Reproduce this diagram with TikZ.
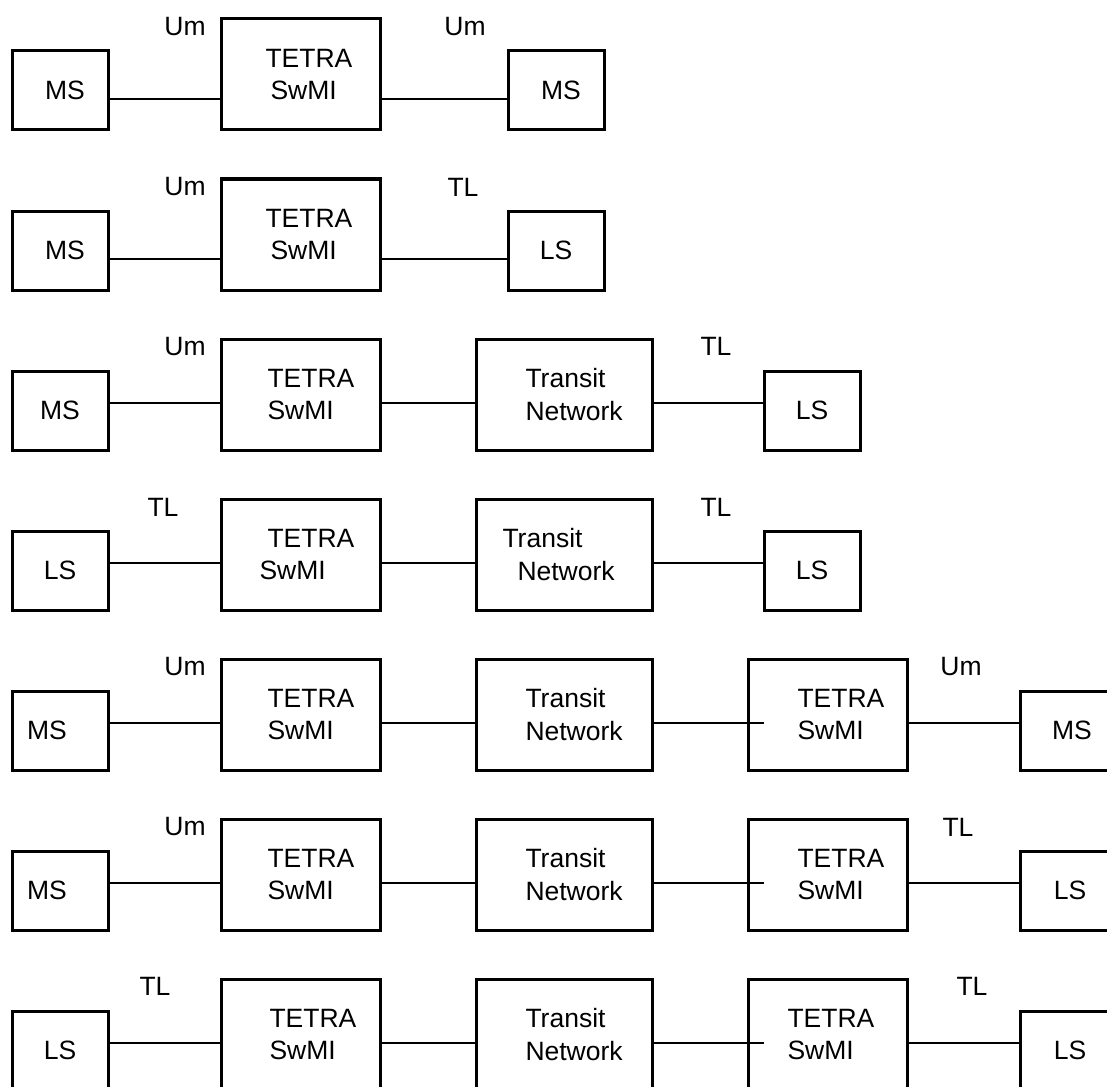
\documentclass[tikz,border=0pt]{standalone}
\usepackage{fontspec}
\setmainfont{Liberation Sans}
\begin{document}
\begin{tikzpicture}[x=1pt,y=-1pt,line width=3pt,
  sbox/.style={draw,minimum width=96pt,minimum height=79pt,inner sep=0pt},
  bbox/.style={draw,minimum width=159pt,minimum height=111pt,inner sep=0pt},
  tbox/.style={draw,minimum width=176pt,minimum height=111pt,inner sep=0pt},
  txt/.style={font=\fontsize{26.5}{32.5}\selectfont,inner sep=0pt,align=left},
  ltxt/.style={txt,anchor=west},
  wire/.style={line width=2.8pt}]
\useasboundingbox (0,0) rectangle (1107,1086);
\clip (0,0) rectangle (1107,1086);
% ---------- Row 1
\coordinate (L1) at (0,99);
\node[sbox] (a1) at (60,90.5) {};
\node[txt] (a1t) at (65,90.5) {MS};
\node[bbox] (b1) at (300.5,74.5) {};
\node[ltxt] (b1t) at (264,74.5) {TETRA\\\hspace*{5pt}SwMI};
\node[sbox] (c1) at (556,90.5) {};
\node[txt] (c1t) at (561,90.5) {MS};
\node[txt] (u11) at (185,27) {Um};
\node[txt] (u12) at (465,27) {Um};
\draw[wire] (a1.east |- L1) -- (b1.west |- L1);
\draw[wire] (b1.east |- L1) -- (c1.west |- L1);
% ---------- Row 2
\coordinate (L2) at (0,259);
\node[sbox] (a2) at (60,250.5) {};
\node[txt] (a2t) at (65,250.5) {MS};
\node[bbox] (b2) at (300.5,234.5) {};
\node[ltxt] (b2t) at (264,234.5) {TETRA\\\hspace*{5pt}SwMI};
\node[sbox] (c2) at (556,250.5) {};
\node[txt] (c2t) at (556,250.5) {LS};
\node[txt] (u21) at (185,187) {Um};
\node[txt] (u22) at (463,187) {TL};
\draw[wire] (a2.east |- L2) -- (b2.west |- L2);
\draw[wire] (b2.east |- L2) -- (c2.west |- L2);
% ---------- Row 3
\coordinate (L3) at (0,403);
\node[sbox] (a3) at (60,410.5) {};
\node[txt] (a3t) at (60,410.5) {MS};
\node[bbox] (b3) at (300.5,394.5) {};
\node[ltxt] (b3t) at (266,394.5) {TETRA\\SwMI};
\node[tbox] (t3) at (564,394.5) {};
\node[ltxt] (t3t) at (524,394.5) {Transit\\Network};
\node[sbox] (c3) at (812,410.5) {};
\node[txt] (c3t) at (812,410.5) {LS};
\node[txt] (u31) at (185,347) {Um};
\node[txt] (u32) at (716,346) {TL};
\draw[wire] (a3.east |- L3) -- (b3.west |- L3);
\draw[wire] (b3.east |- L3) -- (t3.west |- L3);
\draw[wire] (t3.east |- L3) -- (c3.west |- L3);
% ---------- Row 4
\coordinate (L4) at (0,563);
\node[sbox] (a4) at (60,570.5) {};
\node[txt] (a4t) at (60,570.5) {LS};
\node[bbox] (b4) at (300.5,554.5) {};
\node[ltxt] (b4t) at (258,554.5) {\hspace*{8pt}TETRA\\SwMI};
\node[tbox] (t4) at (564,554.5) {};
\node[ltxt] (t4t) at (501,554.5) {Transit\\\hspace*{15pt}Network};
\node[sbox] (c4) at (812,570.5) {};
\node[txt] (c4t) at (812,570.5) {LS};
\node[txt] (u41) at (163,507) {TL};
\node[txt] (u42) at (716,507) {TL};
\draw[wire] (a4.east |- L4) -- (b4.west |- L4);
\draw[wire] (b4.east |- L4) -- (t4.west |- L4);
\draw[wire] (t4.east |- L4) -- (c4.west |- L4);
% ---------- Row 5
\coordinate (L5) at (0,723);
\node[sbox] (a5) at (60,730.5) {};
\node[txt] (a5t) at (47,730.5) {MS};
\node[bbox] (b5) at (300.5,714.5) {};
\node[ltxt] (b5t) at (266,714.5) {TETRA\\SwMI};
\node[tbox] (t5) at (564,714.5) {};
\node[ltxt] (t5t) at (524,714.5) {Transit\\Network};
\node[bbox] (d5) at (828,714.5) {};
\node[ltxt] (d5t) at (796,714.5) {TETRA\\SwMI};
\node[sbox] (c5) at (1068,730.5) {};
\node[txt] (c5t) at (1072,730.5) {MS};
\node[txt] (u51) at (185,667) {Um};
\node[txt] (u52) at (961,667) {Um};
\draw[wire] (a5.east |- L5) -- (b5.west |- L5);
\draw[wire] (b5.east |- L5) -- (t5.west |- L5);
\draw[wire] (t5.east |- L5) -- ([xshift=17pt]d5.west |- L5);
\draw[wire] (d5.east |- L5) -- (c5.west |- L5);
% ---------- Row 6
\coordinate (L6) at (0,883);
\node[sbox] (a6) at (60,890.5) {};
\node[txt] (a6t) at (47,890.5) {MS};
\node[bbox] (b6) at (300.5,874.5) {};
\node[ltxt] (b6t) at (266,874.5) {TETRA\\SwMI};
\node[tbox] (t6) at (564,874.5) {};
\node[ltxt] (t6t) at (524,874.5) {Transit\\Network};
\node[bbox] (d6) at (828,874.5) {};
\node[ltxt] (d6t) at (796,874.5) {TETRA\\SwMI};
\node[sbox] (c6) at (1068,890.5) {};
\node[txt] (c6t) at (1070,890.5) {LS};
\node[txt] (u61) at (185,827) {Um};
\node[txt] (u62) at (958,827) {TL};
\draw[wire] (a6.east |- L6) -- (b6.west |- L6);
\draw[wire] (b6.east |- L6) -- (t6.west |- L6);
\draw[wire] (t6.east |- L6) -- ([xshift=17pt]d6.west |- L6);
\draw[wire] (d6.east |- L6) -- (c6.west |- L6);
% ---------- Row 7
\coordinate (L7) at (0,1043);
\node[sbox] (a7) at (60,1050.5) {};
\node[txt] (a7t) at (60,1050.5) {LS};
\node[bbox] (b7) at (300.5,1034.5) {};
\node[ltxt] (b7t) at (268,1034.5) {TETRA\\SwMI};
\node[tbox] (t7) at (564,1034.5) {};
\node[ltxt] (t7t) at (524,1034.5) {Transit\\Network};
\node[bbox] (d7) at (828,1034.5) {};
\node[ltxt] (d7t) at (786,1034.5) {TETRA\\SwMI};
\node[sbox] (c7) at (1068,1050.5) {};
\node[txt] (c7t) at (1070,1050.5) {LS};
\node[txt] (u71) at (155,986) {TL};
\node[txt] (u72) at (972,986) {TL};
\draw[wire] (a7.east |- L7) -- (b7.west |- L7);
\draw[wire] (b7.east |- L7) -- (t7.west |- L7);
\draw[wire] (t7.east |- L7) -- ([xshift=17pt]d7.west |- L7);
\draw[wire] (d7.east |- L7) -- (c7.west |- L7);
\end{tikzpicture}
\end{document}
